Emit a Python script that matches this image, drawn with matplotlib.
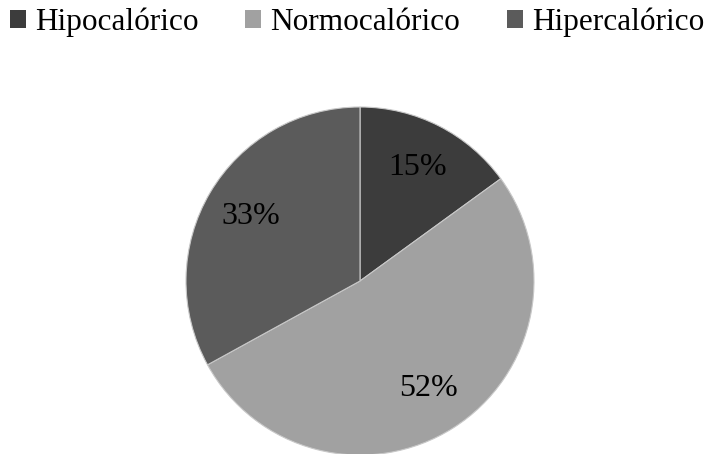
import matplotlib
matplotlib.use("Agg")
import matplotlib.pyplot as plt
from matplotlib.patches import Patch

categories = ["Hipocalórico", "Normocalórico", "Hipercalórico"]
values = [15, 52, 33]
colors = ["#3c3c3c", "#a1a1a1", "#5b5b5b"]

plt.rcParams['font.family'] = ['Liberation Serif', 'DejaVu Serif']

fig = plt.figure(figsize=(7.22, 4.54), dpi=100)
W, H = 722, 454
cx, cy, r = 360, 281, 174
ax = fig.add_axes([(cx - r) / W, (H - cy - r) / H, 2 * r / W, 2 * r / H])

wedges, _, autotexts = ax.pie(values, colors=colors, startangle=90, counterclock=False,
                              radius=1, autopct=lambda p: f"{p:.0f}%", pctdistance=0.73,
                              textprops=dict(fontsize=23, color='black'),
                              wedgeprops=dict(edgecolor="#c8c8c8", linewidth=0.8))
ax.set_aspect('auto')
ax.set_xlim(-1, 1)
ax.set_ylim(-1, 1)
ax.axis('off')

handles = [Patch(facecolor=c, edgecolor='none') for c in colors]
fig.legend(handles, categories, loc='center', bbox_to_anchor=(357 / W, 1 - 22 / H),
           ncol=3, frameon=False, fontsize=22.5, handlelength=0.5, handleheight=0.5,
           handletextpad=0.3, columnspacing=1.5, borderaxespad=0)

fig.savefig("out.png", dpi=100, facecolor='white')
